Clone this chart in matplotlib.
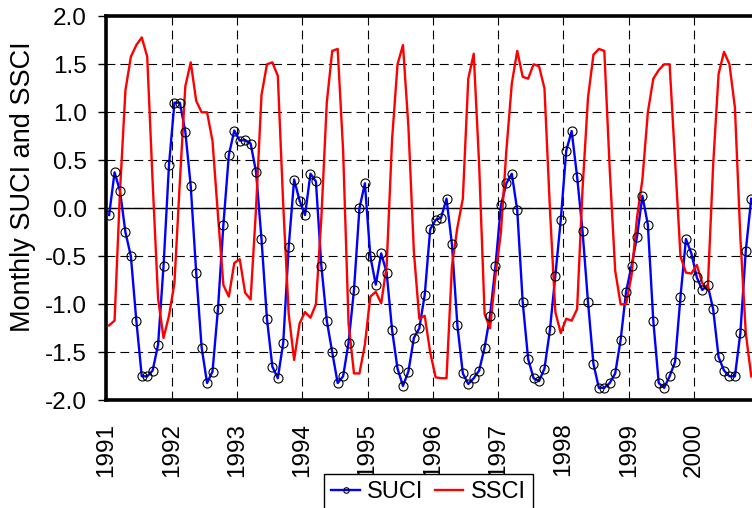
#
# plot.py
# Monthly SUCI and SSCI series, 1991-2000
#
import numpy as np
import matplotlib
matplotlib.use("Agg")
import matplotlib.pyplot as plt
from matplotlib.lines import Line2D

plt.rcParams['font.family'] = ['Liberation Sans', 'DejaVu Sans']
plt.rcParams['axes.unicode_minus'] = False

# ----------------------------------------------------------------------
# Data (monthly values, Jan 1991 - Nov 2000)
year_start = 1991
year_ticks = [1991, 1992, 1993, 1994, 1995, 1996, 1997, 1998, 1999, 2000, 2001]
year_labels = ['1991', '1992', '1993', '1994', '1995', '1996', '1997', '1998',
               '1999', '2000', '']

suci = [
    # 1991
    -0.07, 0.375, 0.18, -0.25, -0.50, -1.17, -1.75, -1.75, -1.69, -1.42, -0.60, 0.45,
    # 1992
    1.10, 1.10, 0.80, 0.23, -0.67, -1.45, -1.82, -1.70, -1.05, -0.17, 0.555, 0.81,
    # 1993
    0.705, 0.71, 0.675, 0.38, -0.32, -1.15, -1.65, -1.77, -1.40, -0.40, 0.30, 0.08,
    # 1994
    -0.07, 0.36, 0.28, -0.60, -1.17, -1.50, -1.82, -1.75, -1.40, -0.85, 0.00, 0.26,
    # 1995
    -0.50, -0.795, -0.47, -0.67, -1.27, -1.67, -1.85, -1.70, -1.35, -1.25, -0.90, -0.22,
    # 1996
    -0.12, -0.10, 0.10, -0.375, -1.22, -1.72, -1.83, -1.77, -1.69, -1.45, -1.12, -0.60,
    # 1997
    0.03, 0.26, 0.36, -0.02, -0.975, -1.57, -1.77, -1.80, -1.67, -1.27, -0.70, -0.12,
    # 1998
    0.60, 0.805, 0.33, -0.24, -0.975, -1.62, -1.87, -1.87, -1.82, -1.72, -1.37, -0.87,
    # 1999
    -0.60, -0.30, 0.13, -0.17, -1.17, -1.82, -1.87, -1.75, -1.60, -0.92, -0.32, -0.47,
    # 2000
    -0.72, -0.85, -0.80, -1.05, -1.55, -1.69, -1.75, -1.75, -1.30, -0.44, 0.10,
]

ssci = [
    # 1991
    -1.22, -1.17, 0.18, 1.23, 1.58, 1.70, 1.78, 1.58, 0.27, -0.94, -1.35, -1.12,
    # 1992
    -0.78, 0.28, 1.27, 1.52, 1.12, 1.00, 1.00, 0.70, -0.07, -0.80, -0.92, -0.57,
    # 1993
    -0.53, -0.88, -0.95, 0.00, 1.18, 1.50, 1.52, 1.38, 0.03, -1.10, -1.58, -1.20,
    # 1994
    -1.08, -1.14, -1.00, -0.10, 1.10, 1.64, 1.66, 0.60, -1.20, -1.72, -1.72, -1.42,
    # 1995
    -0.92, -0.87, -0.99, -0.60, 0.72, 1.50, 1.70, 0.85, -0.45, -1.15, -1.12, -1.50,
    # 1996
    -1.76, -1.77, -1.77, -0.60, -0.20, 0.10, 1.35, 1.61, 0.45, -1.10, -1.25, -0.70,
    # 1997
    -0.25, 0.60, 1.30, 1.64, 1.37, 1.35, 1.50, 1.48, 1.25, 0.00, -1.08, -1.30,
    # 1998
    -1.15, -1.17, -1.05, 0.20, 1.15, 1.60, 1.66, 1.64, 0.40, -0.65, -1.00, -1.00,
    # 1999
    -0.70, -0.10, 0.30, 1.00, 1.35, 1.44, 1.50, 1.50, 0.50, -0.50, -0.67, -0.68,
    # 2000
    -0.59, -0.78, -0.85, 0.45, 1.40, 1.63, 1.50, 1.05, -0.30, -1.30, -1.75,
]

# tempo em anos (meio do mês)
t = year_start + (np.arange(len(suci)) + 0.5) / 12.0

# ----------------------------------------------------------------------
# Figure
fig = plt.figure(figsize=(7.52, 5.08), dpi=100)
# plot area runs a bit past the right edge of the picture
ax = fig.add_axes([106.4 / 752, 107.7 / 508, 653.0 / 752, 384.0 / 508])

ax.plot(t, suci, color='#0000ff', lw=1.7, zorder=3)
ax.plot(t, suci, ls='none', marker='o', ms=6.5, mfc='none', mec='black',
        mew=0.8, zorder=4)
ax.plot(t, ssci, color='#ff0000', lw=1.7, zorder=3)

ax.axhline(0, color='black', lw=1.0, zorder=2)

yt = np.arange(-2.0, 2.01, 0.5)
ax.set_xlim(1991, 2001)
ax.set_ylim(-2.0, 2.0)
ax.set_yticks(yt)
ax.set_yticklabels([f'{v:.1f}' for v in yt], fontsize=17.5)
ax.set_xticks(year_ticks)
ax.set_xticklabels(year_labels, rotation=90, fontsize=17.5)

ax.grid(True, color='black', lw=0.8, ls=(0, (8, 4.5)), zorder=1)
ax.tick_params(axis='y', direction='out', length=6, width=1, pad=8)
ax.tick_params(axis='x', length=0, pad=16)

for side in ['left', 'bottom', 'top']:
    ax.spines[side].set_linewidth(2.6)
    ax.spines[side].set_color('black')
ax.spines['right'].set_visible(False)

ax.set_ylabel('Monthly SUCI and SSCI', fontsize=19.5)
ax.yaxis.set_label_coords(-0.108, 0.555)

# legend
handles = [
    Line2D([], [], color='#0000ff', lw=1.7, marker='o', ms=4, mfc='none',
           mec='black', mew=0.8),
    Line2D([], [], color='#ff0000', lw=1.7),
]
leg = fig.legend(handles, ['SUCI', 'SSCI'], loc='upper center',
                 bbox_to_anchor=(428.5 / 752, 1 - 474 / 508), ncol=2,
                 fontsize=17, frameon=True, fancybox=False, framealpha=1,
                 edgecolor='black', borderpad=0.3, handlelength=1.2,
                 handletextpad=0.3, columnspacing=0.5, borderaxespad=0)
leg.get_frame().set_linewidth(1.0)

fig.savefig('out.png', dpi=100)
